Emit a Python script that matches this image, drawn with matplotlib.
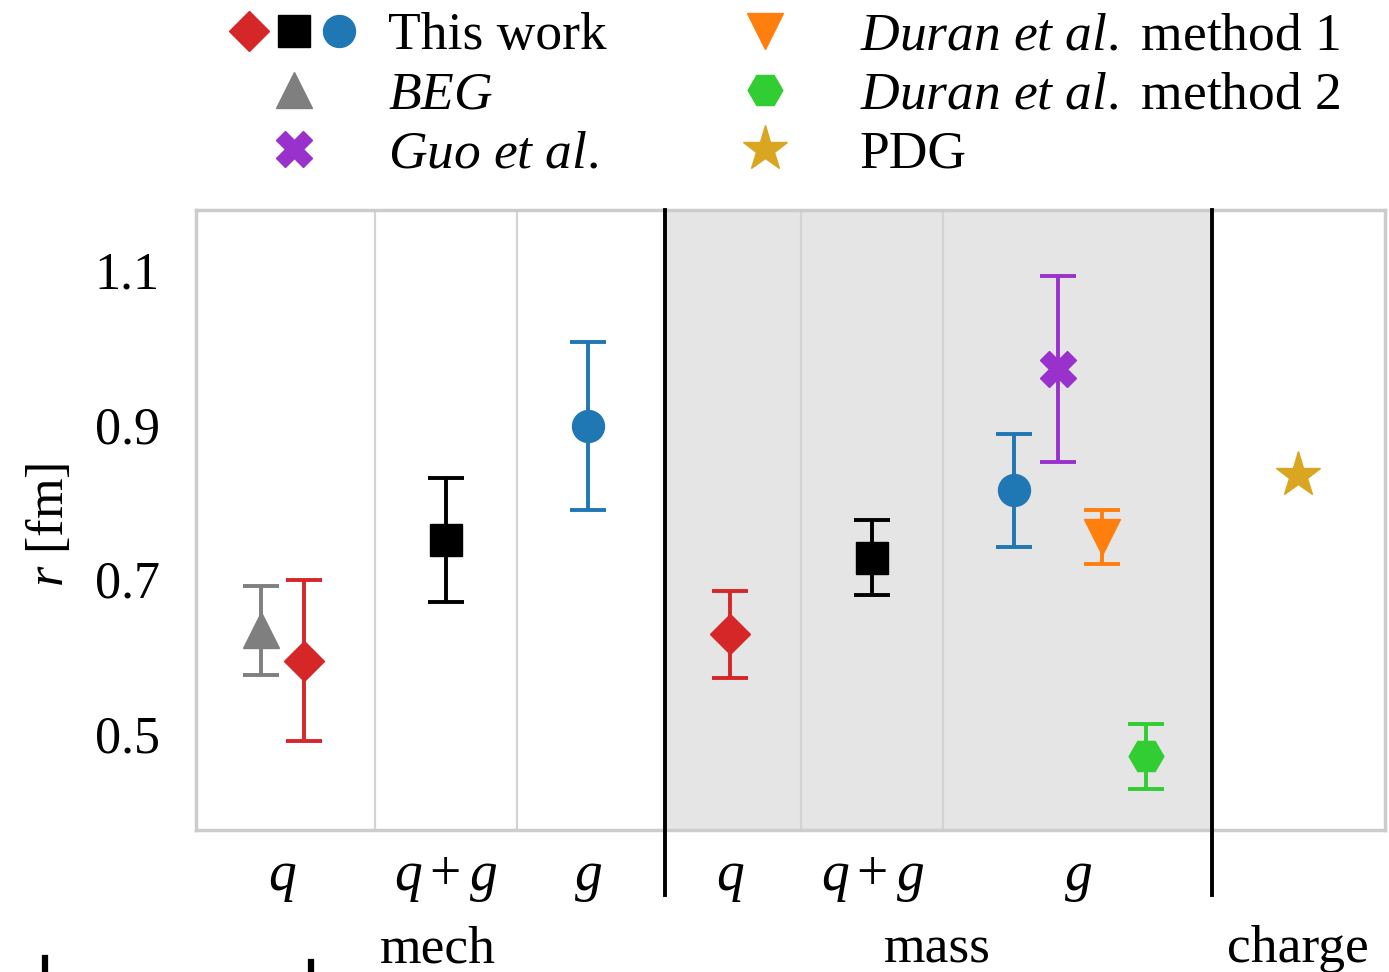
import numpy as np
import matplotlib.pyplot as plt
from matplotlib.lines import Line2D
from matplotlib.legend_handler import HandlerTuple

plt.rcParams['font.family'] = 'Liberation Serif'
plt.rcParams['mathtext.fontset'] = 'custom'
plt.rcParams['mathtext.rm'] = 'Liberation Serif'
plt.rcParams['mathtext.it'] = 'Liberation Serif:italic'
plt.rcParams['font.size'] = 38.5

# this work: mech q, q+g, g ; mass q, q+g, g
work_x = [0, 1, 2, 3, 4, 5]
work_r = [0.595, 0.751, 0.898, 0.629, 0.728, 0.815]
work_err = [0.104, 0.080, 0.109, 0.0565, 0.0485, 0.073]

# other determinations
beg_x, beg_r, beg_err = [-0.3], [0.634], [0.0575]
guo_x, guo_r, guo_err = [5.31], [0.972], [0.1205]
duran1_x, duran1_r, duran1_err = [5.62], [0.755], [0.035]
duran2_x, duran2_r, duran2_err = [5.93], [0.471], [0.042]
pdg_x, pdg_r = [7.0], [0.835]

sub_labels = ['$q$', '$q+g$', '$g$', '$q$', '$q+g$', '$g$']
sub_pos = [-0.15, 1, 2, 3, 4, 5.45]
group_labels = ['mech', 'mass', 'charge']
group_pos = [0.94, 4.46, 7.0]

red, blue, grey = '#d62728', '#1f77b4', '#7f7f7f'
purple, orange, green, gold = '#9932cc', '#ff7f0e', '#32cd32', '#daa520'
work_style = [('D', red, 20.5), ('s', 'black', 23), ('o', blue, 23)] * 2

fig = plt.figure(figsize=(13.89, 9.72), dpi=100)
ax = fig.add_axes([196/1389, 1-830/972, (1385-196)/1389, 620/972])

eb = dict(ls='none', elinewidth=2.8, capsize=13, capthick=2.8)

for x, r, e, (m, c, s) in zip(work_x, work_r, work_err, work_style):
    ax.errorbar([x], [r], yerr=[e], marker=m, color=c, ms=s, zorder=5, **eb)
ax.errorbar(beg_x, beg_r, yerr=beg_err, marker='^', color=grey, ms=26, zorder=4, **eb)
ax.errorbar(guo_x, guo_r, yerr=guo_err, marker='X', color=purple, ms=26, zorder=4, **eb)
ax.errorbar(duran1_x, duran1_r, yerr=duran1_err, marker='v', color=orange, ms=26, zorder=4, **eb)
ax.errorbar(duran2_x, duran2_r, yerr=duran2_err, marker='H', color=green, ms=25, zorder=4, **eb)
ax.plot(pdg_x, pdg_r, ls='none', marker='*', color=gold, ms=34, zorder=4)

# shaded mass block, separators
ax.axvspan(2.54, 6.39, color='#e5e5e5', zorder=0, lw=0)
for gx in [0.5, 1.5, 3.5, 4.5]:
    ax.axvline(gx, color='#d3d3d3', lw=1.6, zorder=1)
for bx in [2.54, 6.39]:
    ax.axvline(bx, ymin=-0.105, ymax=1, color='black', lw=2.8, clip_on=False, zorder=6)

ax.set_xlim(-0.76, 7.61)
ax.set_ylim(0.3758, 1.1776)
ax.set_yticks([0.5, 0.7, 0.9, 1.1])
ax.set_yticklabels(['0.5', '0.7', '0.9', '1.1'])
ax.set_xticks([])
ax.tick_params(axis='y', length=0, pad=26, labelsize=37.5)
for sp in ax.spines.values():
    sp.set_color('#cccccc')
    sp.set_linewidth(2.5)

trans = ax.get_xaxis_transform()
for p, t in zip(sub_pos, sub_labels):
    ax.text(p, -0.077, t, transform=trans, ha='center', va='center', fontsize=40)
for p, t in zip(group_pos, group_labels):
    ax.text(p, -0.192, t, transform=trans, ha='center', va='center')

fig.text(50/1389, 1-525/972, '$r$ [fm]', rotation=90, ha='center', va='center', fontsize=37.5)

# legend
h_work = tuple(Line2D([], [], ls='none', marker=m, color=c, ms=s) for m, c, s in work_style[:3])
handles = [h_work,
           Line2D([], [], ls='none', marker='^', color=grey, ms=26),
           Line2D([], [], ls='none', marker='X', color=purple, ms=26),
           Line2D([], [], ls='none', marker='v', color=orange, ms=26),
           Line2D([], [], ls='none', marker='H', color=green, ms=25),
           Line2D([], [], ls='none', marker='*', color=gold, ms=34)]
labels = ['This work', r'$\mathit{BEG}$', r'$\mathit{Guo\ et\ al.}$',
          r'$\mathit{Duran\ et\ al.}$ method 1', r'$\mathit{Duran\ et\ al.}$ method 2', 'PDG']
fig.legend(handles, labels, ncol=2, loc='upper left', bbox_to_anchor=(227/1389, 1-12/972),
           frameon=False, handlelength=2.52, handletextpad=0.5, columnspacing=1.7,
           labelspacing=0.2, borderpad=0, borderaxespad=0,
           handler_map={tuple: HandlerTuple(ndivide=None, pad=0)})

# cut-off marks at the bottom edge
for fx, fy in [(45, 958), (311, 962)]:
    fig.add_artist(Line2D([fx/1389, fx/1389], [0, 1-fy/972], color='black', lw=4.5,
                          transform=fig.transFigure))

fig.savefig('out.png', dpi=100)
